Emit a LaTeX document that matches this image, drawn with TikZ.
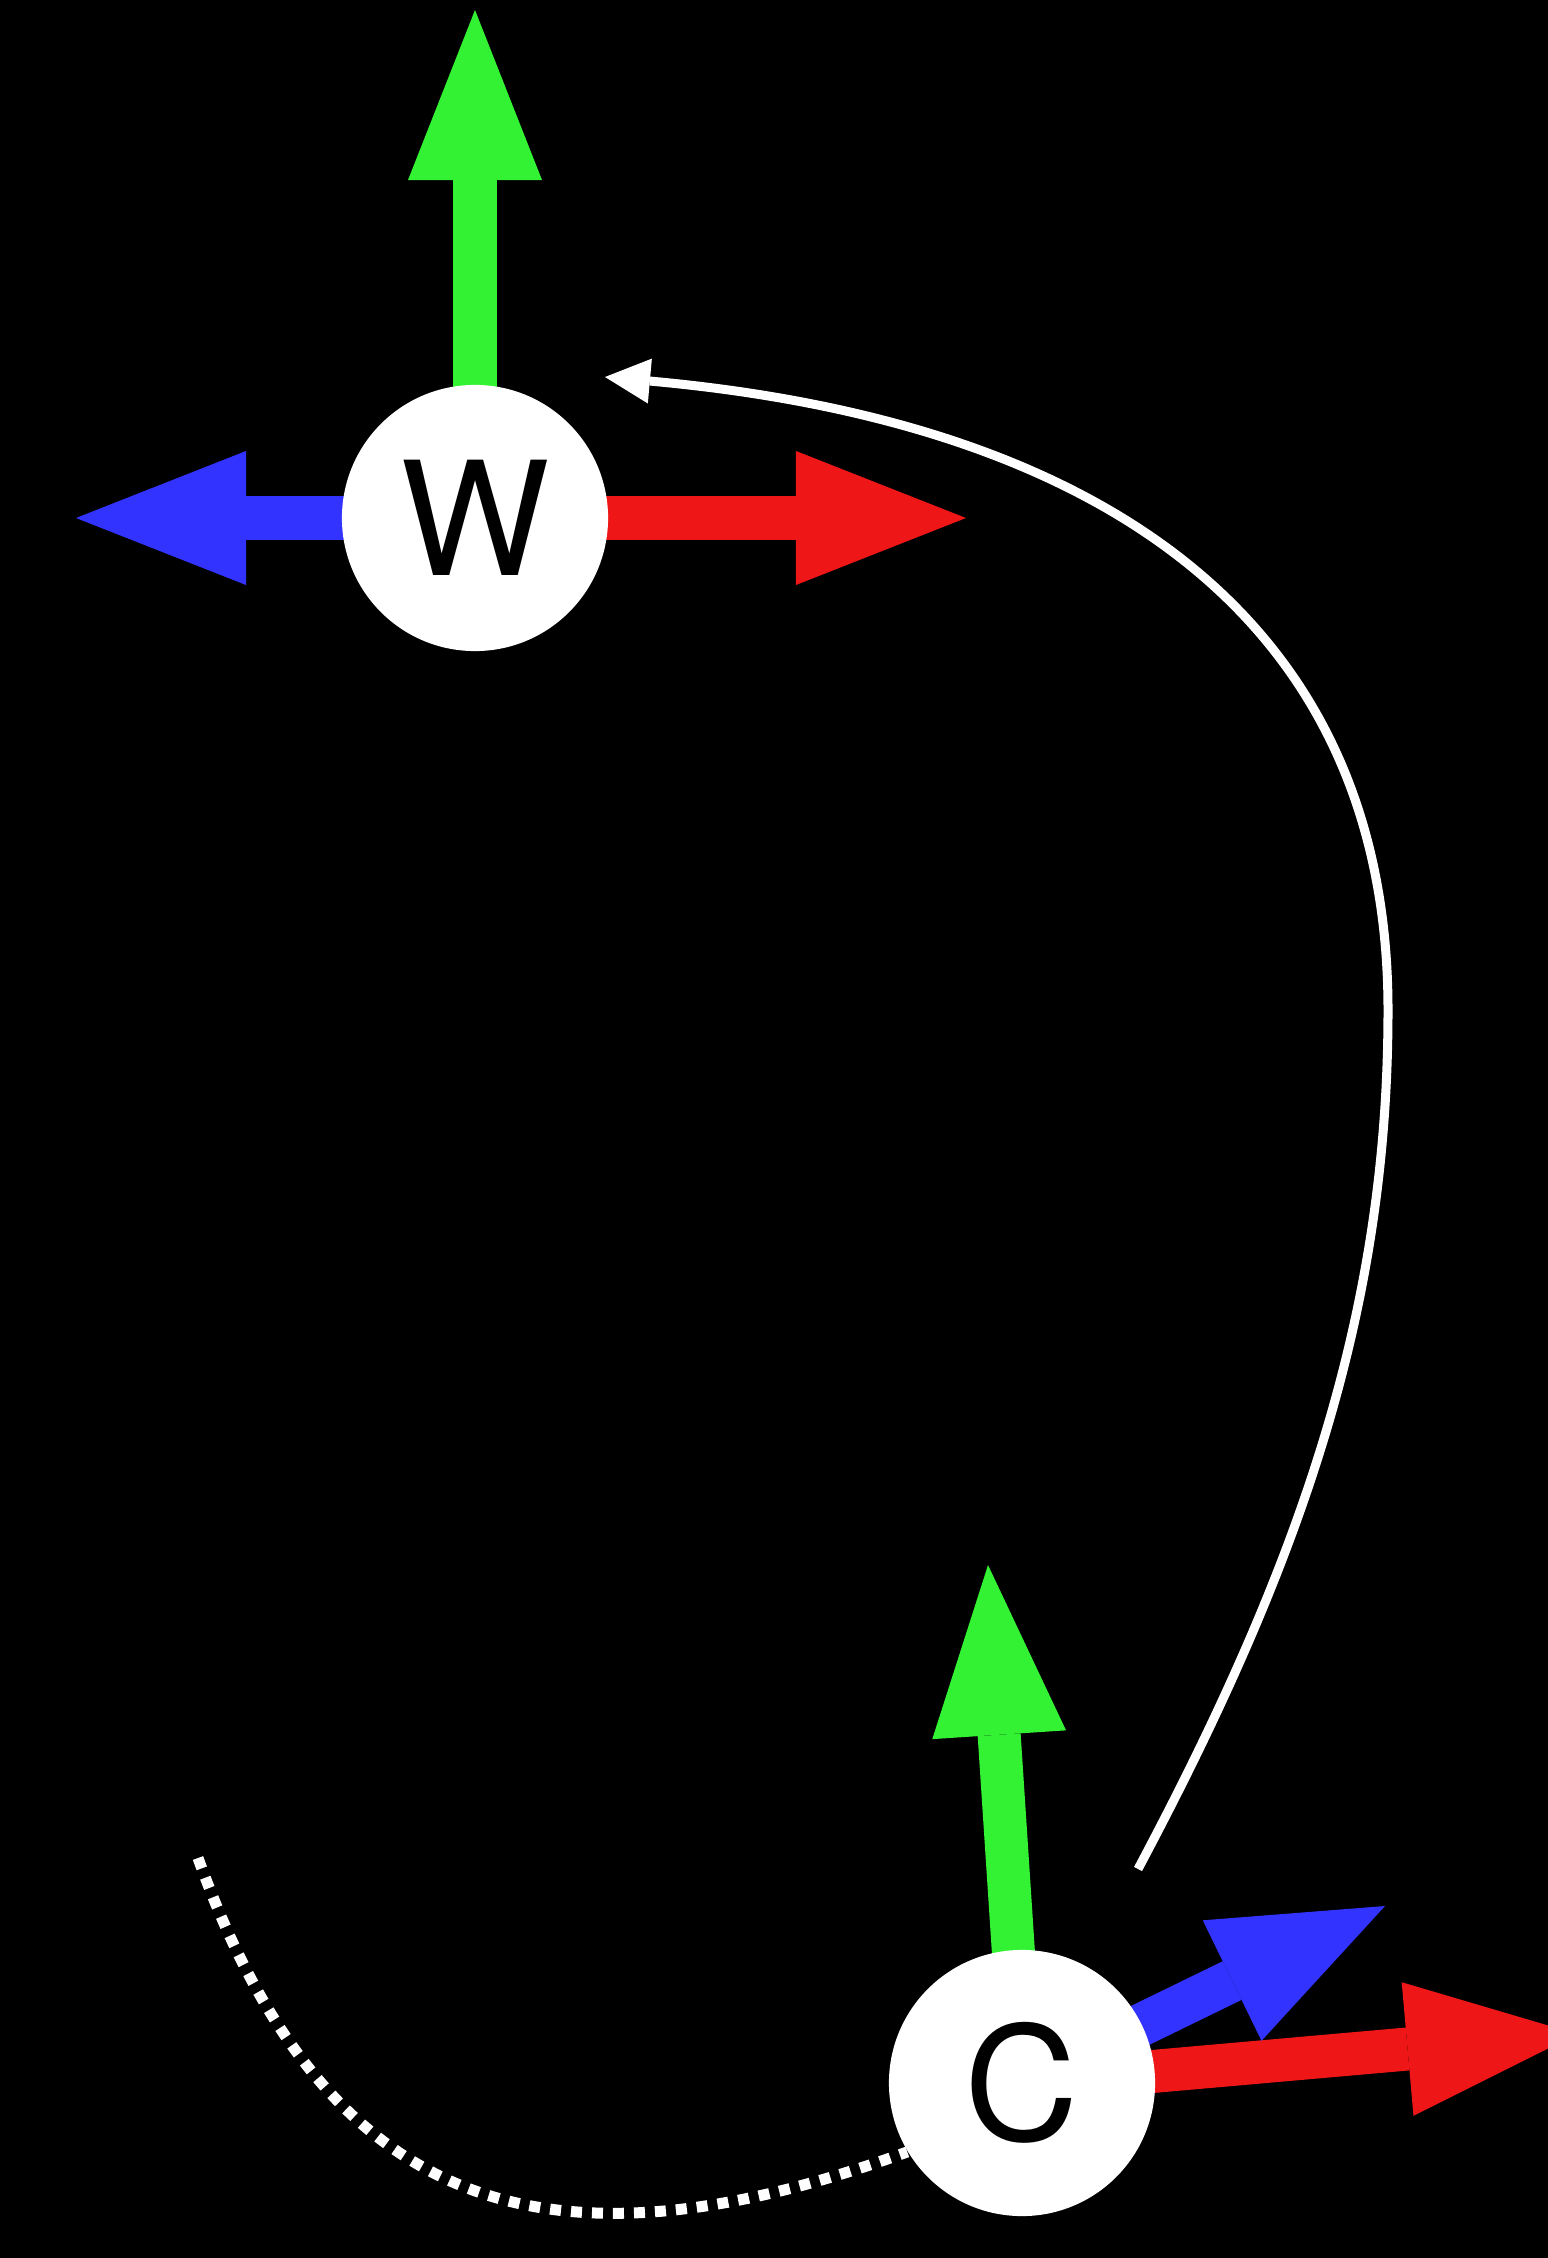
\documentclass[tikz,border=0pt]{standalone}
\usepackage{fontspec}
\setmainfont{TeX Gyre Heros}
\usetikzlibrary{arrows.meta, backgrounds}
\definecolor{AxisRed}{HTML}{EE1616}
\definecolor{AxisGreen}{HTML}{33F233}
\definecolor{AxisBlue}{HTML}{3333FF}
\tikzset{
    % Frame origin discs
    frame ball/.style={
        circle,
        fill=white,
        minimum size=2.66cm,
        inner sep=0pt,
        text=black,
        font=\fontsize{45}{54}\selectfont
    },
    % Axis arrows
    axis arrow/.style={
        -{Triangle[length=1.7cm, width=1.34cm, line width=0pt]},
        line width=0.43cm
    },
    axis red/.style={
        axis arrow,
        AxisRed
    },
    axis green/.style={
        axis arrow,
        AxisGreen
    },
    axis blue/.style={
        axis arrow,
        AxisBlue
    },
    % Motion between frames
    path arrow/.style={
        -{Triangle[length=0.45cm, width=0.45cm, line width=0pt]},
        white,
        line width=0.09cm
    },
    trail line/.style={
        white,
        line width=0.11cm,
        dash pattern=on 0.11cm off 0.10cm
    }
}

\begin{document}
\begin{tikzpicture}[x=0.01cm, y=-0.01cm]
    \useasboundingbox (0,0) rectangle (1547,2258);

    % World frame
    \node[frame ball] (world) at (475,518) {W};
    \coordinate (wx) at (966,518);
    \coordinate (wy) at (475,10);
    \coordinate (wz) at (76,518);

    % Camera frame
    \node[frame ball] (cam) at (1022,2083) {C};
    \coordinate (cx) at (1577,2034);
    \coordinate (cy) at (988,1565);
    \coordinate (cz) at (1385,1906);

    % Curve ends
    \coordinate (mstart) at (1138,1869);
    \coordinate (mturn) at (1388,1010);
    \coordinate (mend) at (605,377);
    \coordinate (tstart) at (198,1858);

    \begin{scope}[on background layer]
        \clip (-20,-20) rectangle (1567,2278);
        \fill[black] (-20,-20) rectangle (1567,2278);

        % World axes
        \draw[axis red] (world.center) -- (wx);
        \draw[axis green] (world.center) -- (wy);
        \draw[axis blue] (world.center) -- (wz);

        % Camera axes
        \draw[axis red] (cam.center) -- (cx);
        \draw[axis green] (cam.center) -- (cy);
        \draw[axis blue] (cam.center) -- (cz);

        % Transform arrow and trail
        \draw[path arrow] (mstart) .. controls (1302,1561) and (1388,1310) .. (mturn)
            .. controls (1388,620) and (1103,422) .. (mend);
        \draw[trail line] (tstart) .. controls (327,2215) and (548,2282) .. (cam.211);
    \end{scope}
\end{tikzpicture}
\end{document}
